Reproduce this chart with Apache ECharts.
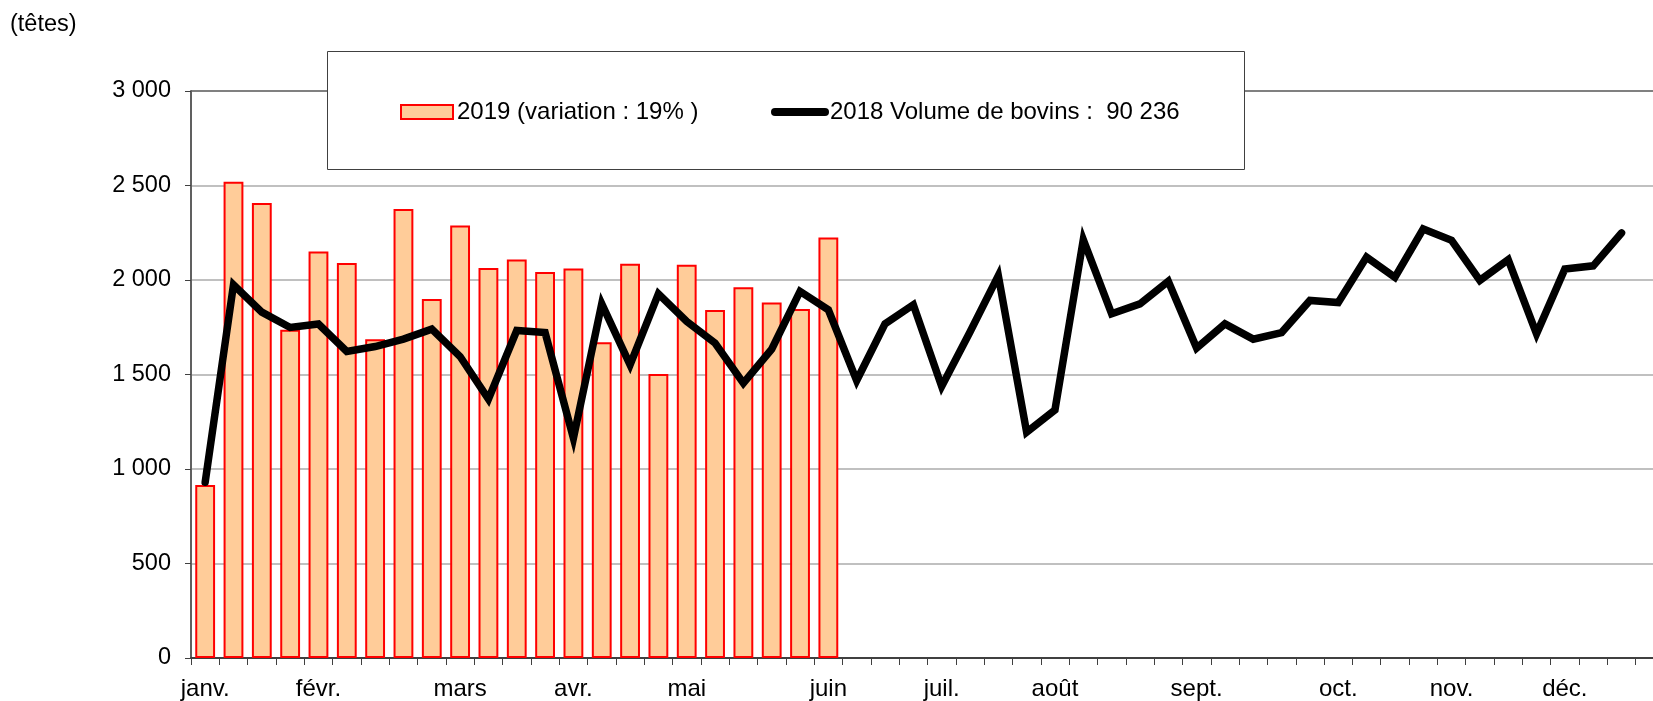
<!DOCTYPE html>
<html>
<head>
<meta charset="utf-8">
<script src="https://cdn.jsdelivr.net/npm/echarts@6/dist/echarts.min.js"></script>
<style>
  html, body { margin: 0; padding: 0; background: #fff; overflow: hidden; }
  /* le graphique d'origine est coupe a droite : conteneur plus large que la fenetre */
  #chart { width: 1680px; height: 701px; }
</style>
</head>
<body>
<div id="chart"></div>
<script>
// semaines de l'annee (52), libelle du mois sur la 1re semaine
const monthNames = ['janv.', 'févr.', 'mars', 'avr.', 'mai', 'juin', 'juil.', 'août', 'sept.', 'oct.', 'nov.', 'déc.'];
const monthWeek = [0, 4, 9, 13, 17, 22, 26, 30, 35, 40, 44, 48];
const weekCount = 52;

// 2019, tetes par semaine
const vol2019 = [916, 2520, 2407, 1737, 2151, 2090, 1687, 2376, 1899, 2289, 2063, 2109,
  2042, 2061, 1671, 2086, 1502, 2081, 1841, 1961, 1881, 1846, 2225];

// 2018, tetes par semaine
const vol2018 = [930, 1975, 1830, 1749, 1767, 1622, 1648, 1687, 1740, 1595, 1370, 1733,
  1722, 1163, 1874, 1551, 1927, 1781, 1666, 1454, 1634, 1940, 1842, 1468, 1768, 1869,
  1437, 1725, 2023, 1195, 1313, 2213, 1821, 1874, 1993, 1640, 1768, 1687, 1722, 1892,
  1881, 2121, 2014, 2270, 2210, 1998, 2107, 1715, 2058, 2075, 2249];

const yTicks = [0, 500, 1000, 1500, 2000, 2500, 3000];

const name2019 = '2019 (variation : 19% )';
const name2018 = '2018 Volume de bovins :  90 236';

const categories = [];
for (let i = 0; i < weekCount; i++) {
  const m = monthWeek.indexOf(i);
  categories.push(m >= 0 ? monthNames[m] : '');
}

const font = 'Liberation Sans, Arial, sans-serif';

function fmt(v) {
  if (v < 1000) return String(v);
  return Math.floor(v / 1000) + ' ' + String(v % 1000).padStart(3, '0');
}

const chart = echarts.init(document.getElementById('chart'), null, { renderer: 'canvas' });

const option = {
  animation: false,
  backgroundColor: '#fff',
  textStyle: { fontFamily: font },
  title: {
    text: '(têtes)',
    left: 10,
    top: 13,
    padding: 0,
    textStyle: { fontSize: 23.5, fontWeight: 'normal', color: '#000', fontFamily: font }
  },
  graphic: [
    {
      type: 'rect',
      z: 50,
      shape: { x: 327.5, y: 51.5, width: 917, height: 118 },
      style: { fill: '#fff', stroke: '#404040', lineWidth: 1 }
    }
  ],
  legend: [
    {
      z: 60,
      left: 400,
      top: 100,
      padding: 0,
      itemWidth: 52,
      itemHeight: 14,
      textStyle: { fontSize: 24, color: '#000', fontFamily: font, padding: [0, 0, 0, -1] },
      data: [{ name: name2019, icon: 'rect' }]
    },
    {
      z: 60,
      left: 771,
      top: 100,
      padding: 0,
      itemWidth: 58,
      itemHeight: 8,
      textStyle: { fontSize: 24, color: '#000', fontFamily: font, padding: [0, 0, 0, -4] },
      data: [{
        name: name2018,
        icon: 'path://M4,0 L54,0 A4,4 0 0 1 54,8 L4,8 A4,4 0 0 1 4,0 Z',
        itemStyle: { color: '#000', borderWidth: 0 }
      }]
    }
  ],
  grid: {
    left: 191,
    top: 91,
    right: 16,
    bottom: 43,
    containLabel: false
  },
  xAxis: {
    type: 'category',
    data: categories,
    boundaryGap: true,
    axisLine: { lineStyle: { color: '#404040', width: 2 } },
    axisTick: { show: true, interval: 0, length: 7, lineStyle: { color: '#404040', width: 1 } },
    axisLabel: { interval: 0, fontSize: 24, color: '#000', margin: 19, fontFamily: font },
    splitLine: { show: false }
  },
  yAxis: {
    type: 'value',
    min: yTicks[0],
    max: yTicks[yTicks.length - 1],
    interval: 500,
    axisLine: { show: true, lineStyle: { color: '#606060', width: 2 } },
    axisTick: { show: true, length: 6, lineStyle: { color: '#404040', width: 1 } },
    axisLabel: { fontSize: 23.5, color: '#000', margin: 20, fontFamily: font, formatter: fmt, padding: [2, 0, 0, 0] },
    splitLine: {
      show: true,
      lineStyle: {
        color: ['#c0c0c0', '#c0c0c0', '#c0c0c0', '#c0c0c0', '#c0c0c0', '#c0c0c0', '#808080'],
        width: 2
      }
    }
  },
  series: [
    {
      name: name2019,
      type: 'bar',
      data: vol2019,
      barWidth: '70%',
      itemStyle: { color: '#ffcc99', borderColor: '#ff0000', borderWidth: 2 }
    },
    {
      name: name2018,
      type: 'line',
      data: vol2018,
      symbol: 'none',
      z: 5,
      itemStyle: { color: '#000' },
      lineStyle: { color: '#000', width: 7.5, cap: 'round', join: 'miter' }
    }
  ]
};

chart.setOption(option);
</script>
</body>
</html>
